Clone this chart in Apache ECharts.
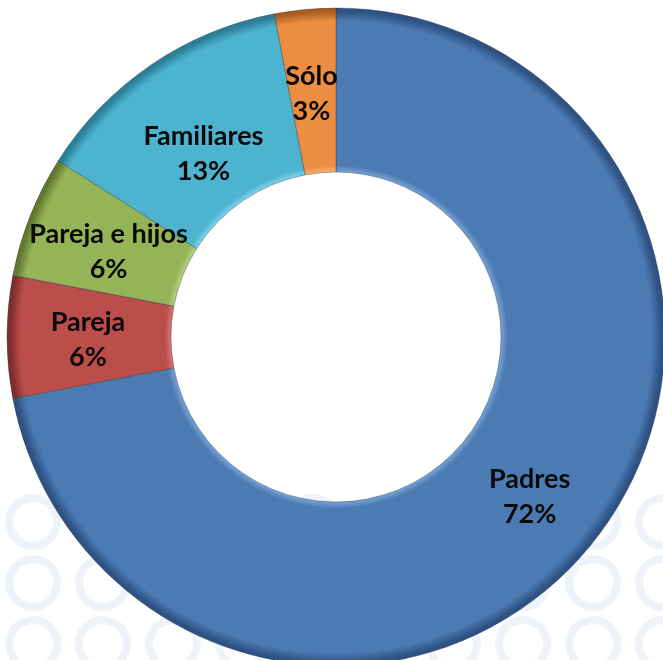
<!DOCTYPE html>
<html>
<head>
<meta charset="utf-8">
<script src="https://cdn.jsdelivr.net/npm/echarts@6/dist/echarts.min.js"></script>
<style>
html,body{margin:0;padding:0;background:#fff;}
#chart{width:663px;height:660px;}
</style>
</head>
<body>
<div id="chart"></div>
<script>
// Data
const categories = ['Padres', 'Pareja', 'Pareja e hijos', 'Familiares', 'Sólo'];
const values = [72, 6, 6, 13, 3];

// Styles (kept separate from data)
const baseColors = ['#4C7BB4', '#BB4D4A', '#95B357', '#4DB4D0', '#EC8E42'];
const lightColors = ['#78A2D4', '#D67673', '#B5D083', '#80D2E8', '#F5B075'];
const darkColors = ['#2E5283', '#7E2F2D', '#62792F', '#2C7F98', '#A95E1F'];
const labelShift = [[1, 0], [2, 3], [5, 7], [8, 24], [-1, 6]];

const CX = 336, CY = 337, R0 = 165, R1 = 329;

function ringGradient(i) {
  const a = R0 / R1;
  return {
    type: 'radial', x: CX, y: CY, r: R1, global: true,
    colorStops: [
      { offset: 0, color: lightColors[i] },
      { offset: a, color: lightColors[i] },
      { offset: a + 0.02, color: baseColors[i] },
      { offset: 0.96, color: baseColors[i] },
      { offset: 0.99, color: darkColors[i] },
      { offset: 1, color: darkColors[i] }
    ]
  };
}

const seriesData = categories.map((c, i) => ({
  name: c,
  value: values[i],
  itemStyle: { color: ringGradient(i) }
}));

// decorative watermark rings
const rings = [];
const rowsY = [522, 583, 644];
for (let r = 0; r < rowsY.length; r++) {
  for (let k = 0; k < 10; k++) {
    rings.push({
      type: 'ring',
      shape: { cx: 33 + k * 70, cy: rowsY[r], r: 28, r0: 20 },
      style: { fill: '#EEF3F9' },
      silent: true
    });
  }
}

const chart = echarts.init(document.getElementById('chart'), null, { renderer: 'canvas' });
chart.setOption({
  animation: false,
  backgroundColor: '#ffffff',
  graphic: { elements: [{ type: 'group', z: -10, children: rings }] },
  series: [{
    type: 'pie',
    center: [CX, CY],
    radius: [R0, R1],
    startAngle: 90,
    clockwise: true,
    percentPrecision: 0,
    avoidLabelOverlap: false,
    z: 5,
    itemStyle: {
      borderColor: 'rgba(30,40,60,0.35)',
      borderWidth: 1
    },
    label: {
      show: true,
      position: 'inside',
      formatter: '{b}\n{d}%',
      color: '#0a0a0a',
      fontFamily: 'Lato, "Open Sans", sans-serif',
      fontWeight: 'bold',
      fontSize: 27,
      lineHeight: 35,
      align: 'center'
    },
    labelLayout: function (p) {
      const s = labelShift[p.dataIndex];
      return { dx: s[0], dy: s[1] };
    },
    labelLine: { show: false },
    emphasis: { disabled: true },
    data: seriesData
  }]
});
</script>
</body>
</html>
